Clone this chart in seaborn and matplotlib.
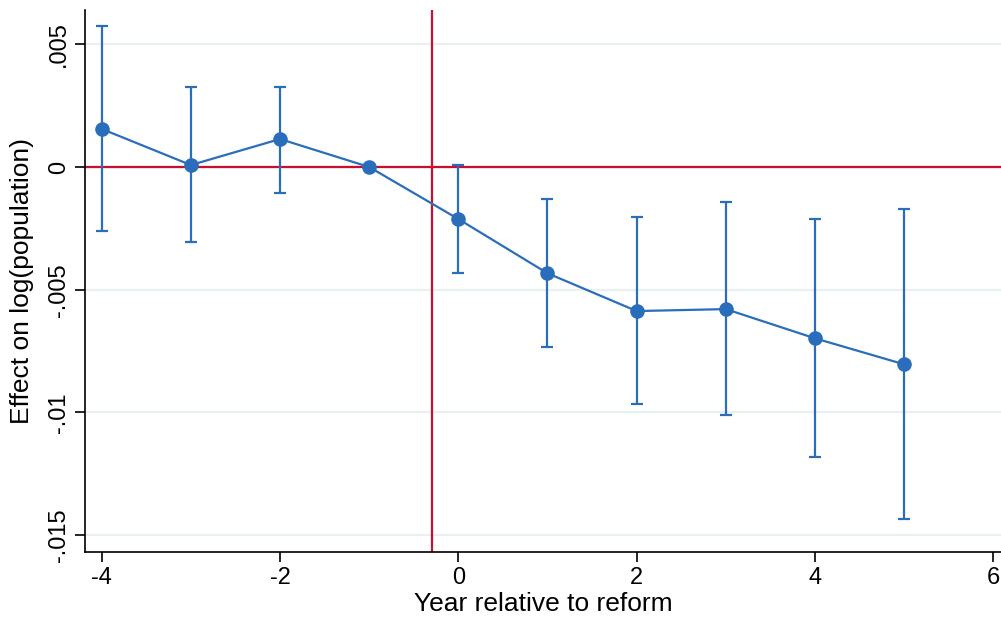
import pandas as pd
import matplotlib
matplotlib.use("Agg")
import matplotlib.pyplot as plt
import seaborn as sns

# event-study estimates
years = [-4, -3, -2, -1, 0, 1, 2, 3, 4, 5]
coef = [0.00155, 0.00008, 0.00114, 0.0, -0.00212, -0.00433, -0.00587, -0.00579, -0.00698, -0.00804]
ci_hi = [0.00575, 0.00326, 0.00326, 0.0, 0.00008, -0.00132, -0.00204, -0.00143, -0.00211, -0.00172]
ci_lo = [-0.00261, -0.00307, -0.00106, 0.0, -0.0043, -0.00733, -0.00966, -0.01010, -0.01182, -0.01435]
reform_line = -0.3

xticks = [-4, -2, 0, 2, 4, 6]
yticks = [-0.015, -0.01, -0.005, 0, 0.005]
ytick_labels = ["-.015", "-.01", "-.005", "0", ".005"]

BLUE = "#2a6ebb"
RED = "#c8102e"
GRID = "#eaf0f2"

sns.set_style("white", {"text.color": "black", "axes.labelcolor": "black",
                        "xtick.color": "black", "ytick.color": "black"})
plt.rcParams["font.family"] = ["Liberation Sans", "DejaVu Sans"]

df = pd.DataFrame({"year": years, "coef": coef, "hi": ci_hi, "lo": ci_lo})

fig = plt.figure(figsize=(10.01, 6.21), dpi=100)
ax = fig.add_axes([0.085, 0.111, 0.915, 0.873])

for y in yticks:
    ax.axhline(y, color=GRID, lw=1.6, zorder=0)

ax.axhline(0, color=RED, lw=1.6, zorder=1)
ax.axvline(reform_line, color=RED, lw=1.6, zorder=1)

ax.errorbar(df["year"], df["coef"],
            yerr=[df["coef"] - df["lo"], df["hi"] - df["coef"]],
            fmt="none", ecolor=BLUE, elinewidth=1.6, capsize=4.5, capthick=1.6, zorder=2)
sns.lineplot(data=df, x="year", y="coef", marker="o", markersize=10.5,
             color=BLUE, linewidth=1.6, markeredgewidth=0, ax=ax, zorder=3)

ax.set_xlim(-4.187, 6.087)
ax.set_ylim(-0.01569, 0.0064)
ax.set_xticks(xticks)
ax.set_xticklabels([str(t) for t in xticks])
ax.set_yticks(yticks)
ax.set_yticklabels(ytick_labels, rotation=90, va="center")

for s in ["top", "right"]:
    ax.spines[s].set_visible(False)
for s in ["left", "bottom"]:
    ax.spines[s].set_color("black")
    ax.spines[s].set_linewidth(1.2)

ax.tick_params(axis="both", which="major", length=7, width=1.2, color="black",
               labelcolor="black", labelsize=17, pad=4, left=True, bottom=True)
ax.set_xlabel("Year relative to reform", fontsize=19, labelpad=2, color="black")
ax.set_ylabel("Effect on log(population)", fontsize=19, color="black")
ax.yaxis.set_label_coords(-0.056, 0.5)

fig.savefig("out.png", dpi=100)
